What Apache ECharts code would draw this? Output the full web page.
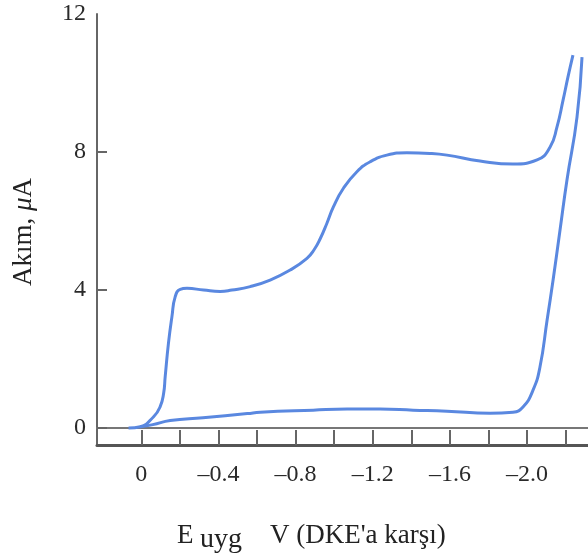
<!DOCTYPE html>
<html>
<head>
<meta charset="utf-8">
<script src="https://cdn.jsdelivr.net/npm/echarts@6/dist/echarts.min.js"></script>
<style>html,body{margin:0;padding:0;background:#fff;}#c{width:588px;height:558px;}</style>
</head>
<body>
<div id="c"></div>
<script>
// Forward scan (0 -> -2.24 V)
const fwdV = [0.066, 0.005, -0.064, -0.098, -0.116, -0.124, -0.141, -0.159, -0.176, -0.202, -0.237, -0.323, -0.409, -0.470, -0.565, -0.668, -0.772, -0.859, -0.895, -0.927, -0.962, -0.996, -1.048, -1.118, -1.187, -1.273, -1.377, -1.497, -1.585, -1.756, -1.927, -2.052, -2.119, -2.155, -2.187, -2.212, -2.238];
const fwdI = [0.00, 0.04, 0.33, 0.62, 1.01, 1.49, 2.46, 3.23, 3.81, 4.02, 4.05, 4.00, 3.96, 4.00, 4.10, 4.29, 4.58, 4.92, 5.16, 5.48, 5.93, 6.41, 6.95, 7.43, 7.72, 7.91, 7.98, 7.96, 7.91, 7.74, 7.65, 7.77, 8.14, 8.72, 9.51, 10.17, 10.81];
// Reverse scan (-2.29 -> 0 V)
const retV = [-2.285, -2.259, -2.207, -2.171, -2.135, -2.104, -2.067, -2.031, -1.979, -1.927, -1.808, -1.585, -1.409, -1.238, -1.067, -0.891, -0.617, -0.550, -0.320, -0.150, -0.060, 0.005];
const retI = [10.75, 9.01, 7.19, 5.74, 4.29, 3.13, 1.77, 1.10, 0.61, 0.46, 0.43, 0.49, 0.52, 0.55, 0.55, 0.52, 0.46, 0.42, 0.30, 0.22, 0.10, 0.04];
// Axis ticks and labels
const xTicks = [0, -0.2, -0.4, -0.6, -0.8, -1.0, -1.2, -1.4, -1.6, -1.8, -2.0, -2.2];
const xLabels = [0, -0.4, -0.8, -1.2, -1.6, -2.0];
const yTicks = [0, 4, 8];
const yLabels = [0, 4, 8, 12];

const pair = (a, b) => a.map((v, i) => [v, b[i]]);
const FONT = '"Liberation Serif", "DejaVu Serif", serif';
const LINE = '#5a88e0';

const chart = echarts.init(document.getElementById('c'), null, {renderer: 'canvas'});
chart.setOption({
  animation: false,
  backgroundColor: '#fff',
  grid: {left: 97, right: 0, top: 14, bottom: 113, containLabel: false},
  xAxis: [{
    type: 'value', inverse: true, min: -2.316, max: 0.2295,
    axisLine: {show: true, onZero: false, lineStyle: {color: '#555', width: 3}},
    axisTick: {show: true, inside: true, length: 15, customValues: xTicks, lineStyle: {color: '#666', width: 2}},
    axisLabel: {customValues: xLabels, margin: 18, fontSize: 24, fontFamily: FONT, color: '#2a2a2a',
      formatter: v => v === 0 ? '0' : ('\u2013' + Math.abs(v).toFixed(1))},
    splitLine: {show: false}
  }, {
    type: 'value', position: 'top', inverse: true, min: -2.316, max: 0.2295,
    axisLine: {show: true, lineStyle: {color: '#777', width: 2}},
    axisTick: {show: false}, axisLabel: {show: false}, splitLine: {show: false}
  }],
  yAxis: {
    type: 'value', min: -0.49, max: 12,
    axisLine: {show: true, onZero: false, lineStyle: {color: '#666', width: 2}},
    axisTick: {show: true, inside: true, length: 10, customValues: yTicks, lineStyle: {color: '#666', width: 2}},
    axisLabel: {customValues: yLabels, margin: 11, fontSize: 24, fontFamily: FONT, color: '#2a2a2a'},
    splitLine: {show: false}
  },
  series: [{
    type: 'line', data: pair(fwdV, fwdI), smooth: 0.5, symbol: 'none',
    lineStyle: {color: LINE, width: 3}
  }, {
    type: 'line', data: pair(retV, retI), smooth: 0.5, symbol: 'none',
    lineStyle: {color: LINE, width: 3}
  }],
  graphic: [
    {type: 'text', x: 24, y: 232, rotation: Math.PI / 2,
     style: {text: '{n|Akım, }{m|μ}{n|A}', align: 'center', verticalAlign: 'middle',
       rich: {n: {fontSize: 27, fontFamily: FONT, fill: '#222'}, m: {fontSize: 27, fontFamily: FONT, fontStyle: 'italic', fill: '#222'}}}},
    {type: 'text', x: 177, y: 536, style: {text: 'E', fontSize: 27, fontFamily: FONT, fill: '#222', verticalAlign: 'middle'}},
    {type: 'text', x: 200, y: 540, style: {text: 'uyg', fontSize: 28, fontFamily: FONT, fill: '#222', verticalAlign: 'middle'}},
    {type: 'text', x: 270, y: 536, style: {text: "V (DKE'a karşı)", fontSize: 27, fontFamily: FONT, fill: '#222', verticalAlign: 'middle'}}
  ]
});
</script>
</body>
</html>
